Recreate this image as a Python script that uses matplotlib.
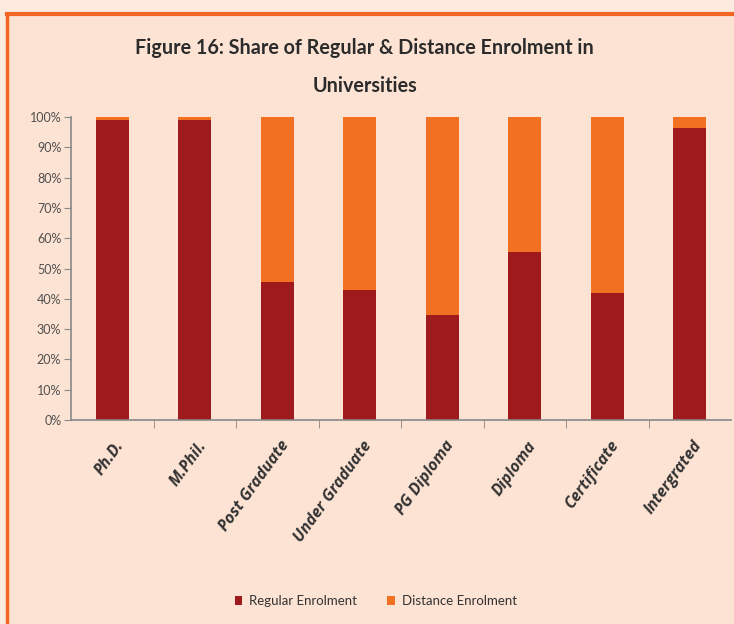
import numpy as np
import matplotlib
matplotlib.use("Agg")
import matplotlib.pyplot as plt
from matplotlib.patches import Rectangle
from matplotlib.lines import Line2D

plt.rcParams['font.family'] = ['Lato', 'DejaVu Sans']

categories = ['Ph.D.', 'M.Phil.', 'Post Graduate', 'Under Graduate',
              'PG Diploma', 'Diploma', 'Certificate', 'Intergrated']
regular = [99.0, 99.0, 45.5, 43.0, 34.5, 55.5, 42.0, 96.5]
distance = [100 - r for r in regular]
series_names = ['Regular Enrolment', 'Distance Enrolment']
yticks = np.arange(0, 101, 10)

c_reg = '#9E1A1C'
c_dist = '#F27022'
bg = '#FDE3D3'

fig = plt.figure(figsize=(7.34, 6.24), dpi=100, facecolor=bg)

# lighter page strip above/left of the frame and the orange frame lines
fig.patches.append(Rectangle((0, 1 - 13 / 624), 1, 13 / 624, transform=fig.transFigure,
                             facecolor='#FDEBE0', edgecolor='none', zorder=0))
fig.patches.append(Rectangle((0, 0), 6 / 734, 1, transform=fig.transFigure,
                             facecolor='#FDEBE0', edgecolor='none', zorder=0))
fig.lines.append(Line2D([7 / 734, 1], [1 - 14 / 624, 1 - 14 / 624], transform=fig.transFigure,
                        color='#F26522', lw=3))
fig.lines.append(Line2D([7 / 734, 7 / 734], [0, 1 - 14 / 624], transform=fig.transFigure,
                        color='#F26522', lw=2.5))

ax = fig.add_axes([71 / 734, 1 - 420 / 624, 660 / 734, 303 / 624])
ax.set_facecolor(bg)

x = np.arange(len(categories))
ax.bar(x, regular, width=0.4, color=c_reg, label=series_names[0], zorder=2)
ax.bar(x, distance, width=0.4, bottom=regular, color=c_dist, label=series_names[1], zorder=2)

ax.set_xlim(-0.5, len(categories) - 0.5)
ax.set_ylim(0, 100)
ax.set_yticks(yticks)
ax.set_yticklabels([f'{v}%' for v in yticks], fontsize=9, color='#505050')

ax.set_xticks(x + 0.03)
ax.set_xticklabels(categories, rotation=54, ha='right', rotation_mode='anchor',
                   fontsize=11.5, fontstyle='italic', fontweight='bold', color='#333333',
                   family=['Open Sans', 'DejaVu Sans'])
ax.tick_params(axis='x', which='major', length=0, pad=13)
ax.set_xticks(np.arange(0.5, len(categories) - 0.5, 1), minor=True)
ax.tick_params(axis='x', which='minor', length=6, color='#888888', direction='out')
ax.tick_params(axis='y', length=5, color='#888888', direction='out', pad=2)

for s in ['top', 'right']:
    ax.spines[s].set_visible(False)
for s in ['left', 'bottom']:
    ax.spines[s].set_color('#888888')
    ax.spines[s].set_linewidth(1.2)

fig.text(0.497, 1 - 67 / 624, 'Figure 16: Share of Regular & Distance Enrolment in\nUniversities',
         ha='center', va='center', fontsize=14.2, fontweight='bold', color='#2b2b2b',
         linespacing=2.1)

fig.legend(loc='center', bbox_to_anchor=(0.512, 1 - 601 / 624), ncol=2, frameon=False,
           fontsize=9.5, handlelength=0.6, handleheight=0.6, handletextpad=0.5,
           columnspacing=2.3, labelcolor='#333333')

fig.savefig('out.png', dpi=100, facecolor=bg)
